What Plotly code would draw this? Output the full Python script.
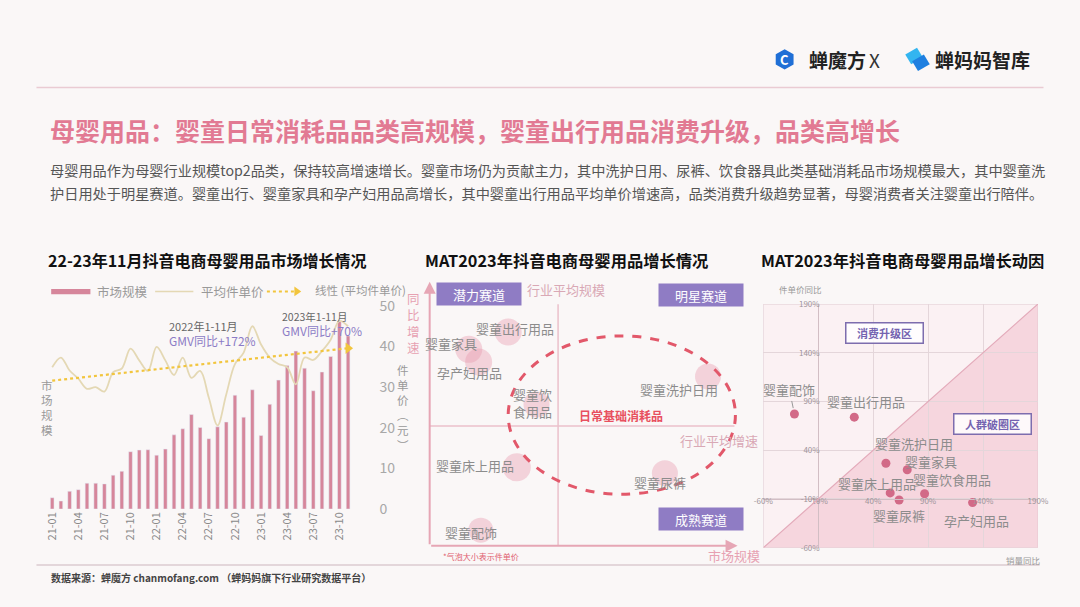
import plotly.graph_objects as go

W, H = 1080, 607
def PX(x): return x / W
def PY(y): return 1 - y / H

FONT = "Noto Sans CJK SC"

# ------------------------------------------------------------------ data
months = ["21-01", "21-02", "21-03", "21-04", "21-05", "21-06", "21-07", "21-08", "21-09",
          "21-10", "21-11", "21-12", "22-01", "22-02", "22-03", "22-04", "22-05", "22-06",
          "22-07", "22-08", "22-09", "22-10", "22-11", "22-12", "23-01", "23-02", "23-03",
          "23-04", "23-05", "23-06", "23-07", "23-08", "23-09", "23-10", "23-11"]
tick_months = ["21-01", "21-04", "21-07", "21-10", "22-01", "22-04", "22-07", "22-10",
               "23-01", "23-04", "23-07", "23-10"]
market_size = [11.7, 8.3, 18.3, 20.0, 26.7, 26.7, 26.0, 35.0, 39.0, 59.3, 61.0, 61.3,
               55.7, 62.0, 76.7, 83.0, 97.7, 84.3, 72.7, 85.0, 90.0, 117.7, 95.0, 123.3,
               76.0, 108.3, 133.3, 148.3, 163.3, 145.7, 122.3, 141.7, 157.7, 194.3, 179.0]
avg_price = [34.9, 37.3, 34.1, 32.1, 29.6, 30.0, 28.9, 33.7, 34.6, 39.5, 36.6, 34.0,
             39.9, 36.6, 33.0, 37.3, 32.3, 34.0, 27.4, 20.6, 28.2, 35.7, 38.5, 45.0,
             40.5, 37.3, 35.7, 34.9, 30.7, 37.3, 36.7, 38.9, 41.7, 46.3, 45.0]
trend_price = [31.6, 39.6]          # linear trend of avg price, first / last month
price_ticks = [0, 10, 20, 30, 40, 50]

quad_names = ["婴童出行用品", "婴童家具", "孕产妇用品", "婴童饮食用品", "婴童洗护日用",
              "婴童床上用品", "婴童尿裤", "婴童配饰"]
quad_labels = ["婴童出行用品", "婴童家具", "孕产妇用品", "婴童饮<br>食用品", "婴童洗护日用",
               "婴童床上用品", "婴童尿裤", "婴童配饰"]
quad_scale = [25.5, 12.7, 15.9, 34.7, 90.4, 28.3, 76.4, 16.6]      # market size (relative)
quad_growth = [81.0, 74.4, 69.6, 53.5, 64.1, 29.7, 27.5, 5.9]      # growth (relative)
quad_unit_price = [27, 27, 27, 26, 26, 28, 26, 25]                 # bubble = unit price (relative)
avg_scale = 41.7
avg_growth = 45.4

drv_names = ["婴童配饰", "婴童出行用品", "婴童洗护日用", "婴童家具", "婴童床上用品",
             "婴童尿裤", "婴童饮食用品", "孕产妇用品"]
sales_yoy = [-31.7, 22.8, 51.6, 71.0, 55.5, 63.6, 86.8, 130.5]
price_yoy = [77.2, 73.9, 26.6, 20.0, -3.8, -11.1, -4.7, -13.7]
drv_ticks = [-60, -10, 40, 90, 140, 190]
drv_ticktext = ["-60%", "-10%", "40%", "90%", "140%", "190%"]

# ------------------------------------------------------------------ styles
BAR = "#D6869B"
PRICE_LINE = "#E4D8B4"
TREND = "#F2C53D"
PINK_AX = "#E6A6B5"
PURPLE = "#8F7CC4"
GREY = "#8A8A8A"

quad_offsets = [(7, 3), (-18, 6), (-9, -10), (-4, 2), (-29, -13), (-42, 2), (-5, -9), (-10, -2)]
drv_offsets = [(-5, 24), (12, 16), (28, 20), (24, 8), (-13, 9), (0, -15), (27, 14), (4, -18)]

fig = go.Figure()

# ---- left chart
fig.add_trace(go.Bar(x=months, y=market_size, marker_color=BAR, width=0.42,
                     xaxis="x", yaxis="y", hoverinfo="skip", showlegend=False))
fig.add_trace(go.Scatter(x=months, y=avg_price, mode="lines",
                         line=dict(color=PRICE_LINE, width=1.8, shape="spline", smoothing=1.0),
                         xaxis="x", yaxis="y2", hoverinfo="skip", showlegend=False))
fig.add_trace(go.Scatter(x=[months[0], months[-1]], y=trend_price, mode="lines",
                         line=dict(color=TREND, width=2.2, dash="dot"),
                         xaxis="x", yaxis="y2", hoverinfo="skip", showlegend=False))
fig.add_trace(go.Scatter(x=[months[-1]], y=[trend_price[-1]], mode="markers",
                         marker=dict(symbol="triangle-right", size=10, color=TREND),
                         xaxis="x", yaxis="y2", hoverinfo="skip", showlegend=False))

# ---- middle chart
fig.add_trace(go.Scatter(x=quad_scale, y=quad_growth, mode="markers",
                         marker=dict(size=quad_unit_price, sizemode="diameter",
                                     color="rgba(232,150,172,0.55)", line=dict(width=0)),
                         xaxis="x3", yaxis="y3", hoverinfo="skip", showlegend=False))

# ---- right chart
fig.add_trace(go.Scatter(x=sales_yoy, y=price_yoy, mode="markers",
                         marker=dict(size=9, color="#D26A87"),
                         xaxis="x4", yaxis="y4", hoverinfo="skip", showlegend=False))

shapes = []
ann = []

def text(x, y, s, size=13, color=GREY, anchor="left", bold=False, **kw):
    if bold:
        s = "<b>" + s + "</b>"
    ann.append(dict(x=PX(x), y=PY(y), xref="paper", yref="paper", text=s, showarrow=False,
                    xanchor=anchor, yanchor="middle", font=dict(family=FONT, size=size, color=color), **kw))

# ---- header
shapes.append(dict(type="line", xref="paper", yref="paper", x0=PX(27), x1=PX(1054), y0=PY(79), y1=PY(79),
                   line=dict(color="#EACBD3", width=1.5)))
# logo 1 : hexagon
hx, hy, r = 790, 50, 10.5
pts = [(hx + r * c, hy + r * s) for c, s in [(0.866, -0.5), (0.866, 0.5), (0, 1), (-0.866, 0.5), (-0.866, -0.5), (0, -1)]]
path = "M " + " L ".join(f"{PX(a)},{PY(b)}" for a, b in pts) + " Z"
shapes.append(dict(type="path", xref="paper", yref="paper", path=path, fillcolor="#1F6FD6", line=dict(width=0)))
text(790, 50, "C", size=13, color="white", anchor="center", bold=True)
text(813, 50, "蝉魔方", size=19, color="#222", bold=True)
text(874, 50, "X", size=19, color="#333")
# logo 2
for (x0, col) in [(913, "#33B5F0"), (920, "#1E7FE0")]:
    p = [(x0, 45), (x0 + 12, 38), (x0 + 18, 48), (x0 + 6, 55)]
    shapes.append(dict(type="path", xref="paper", yref="paper",
                       path="M " + " L ".join(f"{PX(a)},{PY(b + (x0 - 913))}" for a, b in p) + " Z",
                       fillcolor=col, line=dict(width=0)))
text(941, 50, "蝉妈妈智库", size=19, color="#222", bold=True)

text(39, 123, "母婴用品：婴童日常消耗品品类高规模，婴童出行用品消费升级，品类高增长", size=25, color="#E27A93", bold=True)
text(39, 164, "母婴用品作为母婴行业规模top2品类，保持较高增速增长。婴童市场仍为贡献主力，其中洗护日用、尿裤、饮食器具此类基础消耗品市场规模最大，其中婴童洗",
     size=14.2, color="#555")
text(39, 188, "护日用处于明星赛道。婴童出行、婴童家具和孕产妇用品高增长，其中婴童出行用品平均单价增速高，品类消费升级趋势显著，母婴消费者关注婴童出行陪伴。",
     size=14.2, color="#555")

# ---- footer
shapes.append(dict(type="line", xref="paper", yref="paper", x0=PX(27), x1=PX(1050), y0=PY(573), y1=PY(573),
                   line=dict(color="#E3D6DA", width=2)))
text(40, 586, "数据来源：蝉魔方 chanmofang.com （蝉妈妈旗下行业研究数据平台）", size=10, color="#444", bold=True)

# ---- left chart titles / legend / notes
text(37, 257, "22-23年11月抖音电商母婴用品市场增长情况", size=16, color="#111", bold=True)
shapes.append(dict(type="rect", xref="paper", yref="paper", x0=PX(42), x1=PX(82), y0=PY(293), y1=PY(287.5),
                   fillcolor=BAR, line=dict(width=0)))
text(87, 290, "市场规模", size=12.5, color="#999")
shapes.append(dict(type="line", xref="paper", yref="paper", x0=PX(148), x1=PX(187), y0=PY(290), y1=PY(290),
                   line=dict(color=PRICE_LINE, width=1.5)))
text(193, 290, "平均件单价", size=12.5, color="#999")
shapes.append(dict(type="line", xref="paper", yref="paper", x0=PX(262), x1=PX(290), y0=PY(290), y1=PY(290),
                   line=dict(color=TREND, width=2, dash="dot")))
shapes.append(dict(type="path", xref="paper", yref="paper",
                   path=f"M {PX(290)},{PY(285)} L {PX(297)},{PY(290)} L {PX(290)},{PY(295)} Z",
                   fillcolor=TREND, line=dict(width=0)))
text(309, 289, "线性 (平均件单价)", size=11.5, color="#999")

text(160, 326, "2022年1-11月", size=11, color="#666")
text(160, 341, "GMV同比+172%", size=12, color="#8C7CC6")
text(275, 316, "2023年1-11月", size=10.5, color="#666")
text(275, 330, "GMV同比+70%", size=12, color="#8C7CC6")

text(38, 410, "市<br>场<br>规<br>模", size=11.5, color="#999", anchor="center")
text(401, 410, "件<br>单<br>价<br>︵<br>元<br>︶", size=11.5, color="#999", anchor="center")
text(411, 323, "同<br>比<br>增<br>速", size=12.5, color="#E7A1B2", anchor="center")

# ---- middle chart
text(421, 257, "MAT2023年抖音电商母婴用品增长情况", size=16.3, color="#111", bold=True)
ann.append(dict(x=0, y=100, ax=0, ay=0, xref="x3", yref="y3", axref="x3", ayref="y3", text="",
                showarrow=True, arrowhead=2, arrowsize=1.2, arrowwidth=2, arrowcolor=PINK_AX))
ann.append(dict(x=100, y=0, ax=0, ay=0, xref="x3", yref="y3", axref="x3", ayref="y3", text="",
                showarrow=True, arrowhead=2, arrowsize=1.2, arrowwidth=2, arrowcolor=PINK_AX))
shapes.append(dict(type="line", xref="x3", yref="y3", x0=avg_scale, x1=avg_scale, y0=0, y1=91.5,
                   line=dict(color="#EBC0CB", width=1.5)))
shapes.append(dict(type="line", xref="x3", yref="y3", x0=0, x1=99, y0=avg_growth, y1=avg_growth,
                   line=dict(color="#EBC0CB", width=1.5)))
shapes.append(dict(type="circle", xref="x3", yref="y3", x0=25.5, x1=99.3, y0=19.5, y1=79.5,
                   line=dict(color="#E2586A", width=3, dash="dash")))
for name, lab, sx, gy, (dx, dy) in zip(quad_names, quad_labels, quad_scale, quad_growth, quad_offsets):
    ann.append(dict(x=sx, y=gy, xref="x3", yref="y3", text=lab, showarrow=False, xshift=dx, yshift=dy,
                    xanchor="center", yanchor="middle",
                    font=dict(family=FONT, size=13, color="#8C8C8C")))
for lab, cx, cy in [("潜力赛道", 478, 292.5), ("明星赛道", 705, 293.5), ("成熟赛道", 705, 525)]:
    ann.append(dict(x=PX(cx), y=PY(cy), xref="paper", yref="paper", text=lab, showarrow=False,
                    xanchor="center", yanchor="middle",
                    width=82, height=20, bgcolor=PURPLE, borderpad=1,
                    font=dict(family=FONT, size=13, color="white")))
text(525, 288, "行业平均规模", size=13, color="#D9A8B5")
text(681, 444, "行业平均增速", size=13, color="#D9A8B5")
text(578, 418, "日常基础消耗品", size=12, color="#E8505F", bold=True)
text(440, 564, "*气泡大小表示件单价", size=8, color="#E06070")
text(710, 563, "市场规模", size=13, color="#E7A1B2")

# ---- right chart
text(764, 257, "MAT2023年抖音电商母婴用品增长动因", size=16.3, color="#111", bold=True)
shapes.append(dict(type="rect", xref="x4", yref="y4", x0=-60, x1=190, y0=-60, y1=190, layer="below",
                   fillcolor="#FBF1F3", line=dict(color="#E1CDD3", width=1)))
shapes.append(dict(type="path", xref="x4", yref="y4", path="M -60,-60 L 190,190 L 190,-60 Z", layer="below",
                   fillcolor="rgba(240,182,197,0.45)", line=dict(width=0)))
shapes.append(dict(type="line", xref="x4", yref="y4", x0=-60, y0=-60, x1=190, y1=190,
                   line=dict(color="#E3AABA", width=1.2)))
text(806, 287, "件单价同比", size=8.5, color="#999", anchor="center")
text(1033, 568, "销量同比", size=8.5, color="#999", anchor="center")
for lab, cx, cy in [("消费升级区", 892, 332.5), ("人群破圈区", 1002, 427)]:
    ann.append(dict(x=PX(cx), y=PY(cy), xref="paper", yref="paper", text="<b>" + lab + "</b>", showarrow=False,
                    xanchor="center", yanchor="middle",
                    width=74, height=17, bgcolor="rgba(255,255,255,0.85)", bordercolor="#7D6DAE",
                    borderwidth=1.5, borderpad=1, font=dict(family=FONT, size=11, color="#7463B0")))
for name, sx, py_, (dx, dy) in zip(drv_names, sales_yoy, price_yoy, drv_offsets):
    if name == "婴童配饰":
        ann.append(dict(x=sx, y=py_, xref="x4", yref="y4", text=name, showarrow=True,
                        ax=dx, ay=-dy, arrowhead=0, arrowwidth=1, arrowcolor="#999", standoff=6,
                        font=dict(family=FONT, size=13, color="#8C8C8C")))
    else:
        ann.append(dict(x=sx, y=py_, xref="x4", yref="y4", text=name, showarrow=False,
                        xanchor="center", yanchor="middle",
                        xshift=dx, yshift=dy, font=dict(family=FONT, size=13, color="#8C8C8C")))

# ------------------------------------------------------------------ layout
x4_dom = [PX(768.3), PX(1048.3)]
y4_dom = [PY(555), PY(303)]
cross = -10
x_pos = x4_dom[0] + (cross - drv_ticks[0]) / (drv_ticks[-1] - drv_ticks[0]) * (x4_dom[1] - x4_dom[0])
y_pos = y4_dom[0] + (cross - drv_ticks[0]) / (drv_ticks[-1] - drv_ticks[0]) * (y4_dom[1] - y4_dom[0])

fig.update_layout(
    width=W, height=H, margin=dict(l=0, r=0, t=0, b=0),
    paper_bgcolor="#FAF7F7", plot_bgcolor="rgba(0,0,0,0)",
    font=dict(family=FONT, color=GREY), showlegend=False, bargap=0.58,
    xaxis=dict(domain=[PX(38.6), PX(367.6)], anchor="y", type="category",
               tickmode="array", tickvals=tick_months, ticktext=tick_months, tickangle=-90,
               tickfont=dict(size=11, color="#8A8A8A"), showgrid=False, showline=False, ticks="",
               zeroline=False),
    yaxis=dict(domain=[PY(515), PY(305)], anchor="x", range=[0, 210], visible=False),
    yaxis2=dict(overlaying="y", side="right", anchor="x", range=[0, 50], tickvals=price_ticks,
                tickfont=dict(size=14, color="#A8A8A8"), showgrid=False, showline=False,
                zeroline=False, ticks="", ticklabelstandoff=8),
    xaxis3=dict(domain=[PX(428), PX(742)], anchor="y3", range=[0, 100], visible=False),
    yaxis3=dict(domain=[PY(553), PY(280)], anchor="x3", range=[0, 100], visible=False),
    xaxis4=dict(domain=x4_dom, anchor="free", position=y_pos, range=[drv_ticks[0], drv_ticks[-1]],
                tickvals=drv_ticks, ticktext=drv_ticktext, tickfont=dict(size=8, color="#A0949A"),
                showgrid=True, gridcolor="#E4D6DA", gridwidth=1, showline=True, linecolor="#D2BEC4",
                zeroline=False, ticks="", ticklabelstandoff=-6),
    yaxis4=dict(domain=y4_dom, anchor="free", position=x_pos, range=[drv_ticks[0], drv_ticks[-1]],
                tickvals=drv_ticks, ticktext=drv_ticktext, tickfont=dict(size=8, color="#A0949A"),
                showgrid=True, gridcolor="#E4D6DA", gridwidth=1, showline=True, linecolor="#D2BEC4",
                zeroline=False, ticks="", ticklabelstandoff=-3),
    shapes=shapes, annotations=ann,
)

fig.write_html("out.html", config={"displayModeBar": False},
               post_script="document.body.style.margin='0';document.body.style.overflow='hidden';")
